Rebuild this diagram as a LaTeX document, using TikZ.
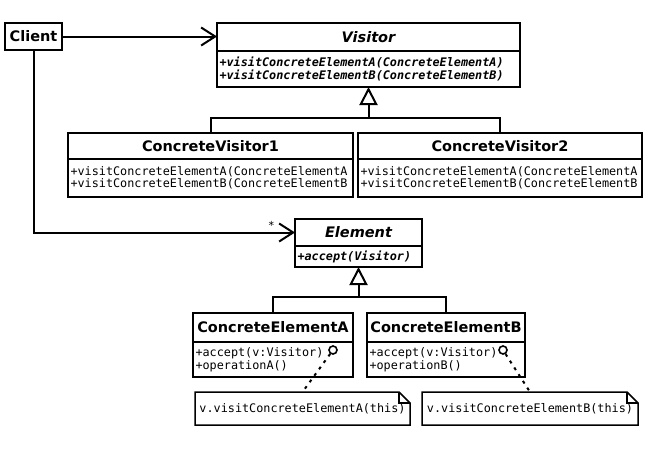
\documentclass[tikz,border=0pt]{standalone}
\usepackage{fontspec}
\setsansfont{DejaVu Sans}
\setmonofont{DejaVu Sans Mono}
\usetikzlibrary{positioning}
\usetikzlibrary{arrows.meta}

\tikzset{
    classtitle/.style={inner sep=0pt, outer sep=0pt, anchor=north, font=\sffamily\bfseries\fontsize{14.5}{16}\selectfont},
    abstracttitle/.style={classtitle, font=\sffamily\bfseries\itshape\fontsize{14.5}{16}\selectfont},
    methods/.style={draw, line width=1.5pt, inner xsep=2.5pt, inner ysep=0pt, outer sep=0pt, align=left, font=\ttfamily\fontsize{11.8}{12.5}\selectfont},
    abstractmethods/.style={methods, font=\ttfamily\bfseries\itshape\fontsize{11.8}{12.5}\selectfont},
    classframe/.style={draw, line width=2.4pt},
    conn/.style={line width=2pt},
    assoc/.style={conn, -{Straight Barb[length=14pt, width=18pt, line width=2pt]}},
    generalize/.style={conn, -{Triangle[open, length=18pt, width=18pt, line width=2pt, fill=white]}},
    notebox/.style={inner xsep=4pt, outer sep=0pt, font=\ttfamily\fontsize{11.8}{12.5}\selectfont},
    notefold/.style={line width=1.5pt},
    noteline/.style={line width=2pt, dash pattern=on 3pt off 5pt},
    port/.style={circle, draw, line width=1.6pt, inner sep=0pt, minimum size=8pt}
}

\begin{document}
\begin{tikzpicture}[x=1pt, y=-1pt]
    \useasboundingbox (0,0) rectangle (650,450);

    % client
    \node [classtitle, draw, line width=2.4pt, minimum width=57pt, minimum height=27pt, anchor=center] (client) at (33.5,36.5) {Client};

    % visitor side
    \node [abstracttitle, minimum width=303pt, minimum height=28pt] (visitor) at (368.5,23) {Visitor};
    \node [abstractmethods, text width=298pt, minimum height=36pt, below=0pt of visitor] (visitorops) {+visitConcreteElementA(ConcreteElementA)\\+visitConcreteElementB(ConcreteElementB)};
    \draw [classframe] (visitor.north west) rectangle (visitorops.south east);

    \node [classtitle, minimum width=285pt, minimum height=26pt] (cvisitor1) at (210.5,133) {ConcreteVisitor1};
    \node [methods, text width=280pt, minimum height=38pt, below=0pt of cvisitor1] (cvisitor1ops) {+visitConcreteElementA(ConcreteElementA\\+visitConcreteElementB(ConcreteElementB};
    \draw [classframe] (cvisitor1.north west) rectangle (cvisitor1ops.south east);

    \node [classtitle, minimum width=284pt, minimum height=26pt] (cvisitor2) at (500,133) {ConcreteVisitor2};
    \node [methods, text width=279pt, minimum height=38pt, below=0pt of cvisitor2] (cvisitor2ops) {+visitConcreteElementA(ConcreteElementA\\+visitConcreteElementB(ConcreteElementB};
    \draw [classframe] (cvisitor2.north west) rectangle (cvisitor2ops.south east);

    % element side
    \node [abstracttitle, minimum width=127pt, minimum height=27pt] (element) at (358.5,219) {Element};
    \node [abstractmethods, text width=122pt, minimum height=21pt, below=0pt of element] (elementops) {+accept(Visitor)};
    \draw [classframe] (element.north west) rectangle (elementops.south east);

    \node [classtitle, minimum width=160pt, minimum height=29pt] (celementa) at (273,313) {ConcreteElementA};
    \node [methods, text width=155pt, minimum height=35pt, below=0pt of celementa] (celementaops) {+accept(v:Visitor)\\+operationA()};
    \draw [classframe] (celementa.north west) rectangle (celementaops.south east);

    \node [classtitle, minimum width=158pt, minimum height=29pt] (celementb) at (446,313) {ConcreteElementB};
    \node [methods, text width=153pt, minimum height=35pt, below=0pt of celementb] (celementbops) {+accept(v:Visitor)\\+operationB()};
    \draw [classframe] (celementb.north west) rectangle (celementbops.south east);

    % notes
    \node [port] (porta) at (333,350) {};
    \node [port] (portb) at (503,350) {};
    \node [notebox, minimum width=215pt, minimum height=33pt] (notea) at (302.5,408.5) {v.visitConcreteElementA(this)};
    \node [notebox, minimum width=216pt, minimum height=33pt] (noteb) at (530,408.5) {v.visitConcreteElementB(this)};
    \draw [notefold] (notea.south west) -- (notea.north west) -- ([xshift=-11pt]notea.north east) -- ([yshift=-11pt]notea.north east) -- (notea.south east) -- cycle;
    \draw [notefold] ([xshift=-11pt]notea.north east) |- ([yshift=-11pt]notea.north east);
    \draw [notefold] (noteb.south west) -- (noteb.north west) -- ([xshift=-11pt]noteb.north east) -- ([yshift=-11pt]noteb.north east) -- (noteb.south east) -- cycle;
    \draw [notefold] ([xshift=-11pt]noteb.north east) |- ([yshift=-11pt]noteb.north east);
    \draw [noteline] (porta) -- (notea.north);
    \draw [noteline] (portb) -- (noteb.north);

    % connectors
    \draw [assoc] (client.east) -- (client.east -| visitor.west);
    \draw [assoc] (client.south) |- (element.west) node [pos=0.955, above=2pt, inner sep=0pt, font=\sffamily\fontsize{11}{11}\selectfont] (many) {*};

    \coordinate (visitorjoin) at (visitorops.south |- 0,118);
    \draw [generalize] (visitorjoin) -- (visitorops.south);
    \draw [conn] (cvisitor1.north) |- (visitorjoin) -| (cvisitor2.north);

    \coordinate (elementjoin) at (elementops.south |- 0,297);
    \draw [generalize] (elementjoin) -- (elementops.south);
    \draw [conn] (celementa.north) |- (elementjoin) -| (celementb.north);
\end{tikzpicture}
\end{document}
